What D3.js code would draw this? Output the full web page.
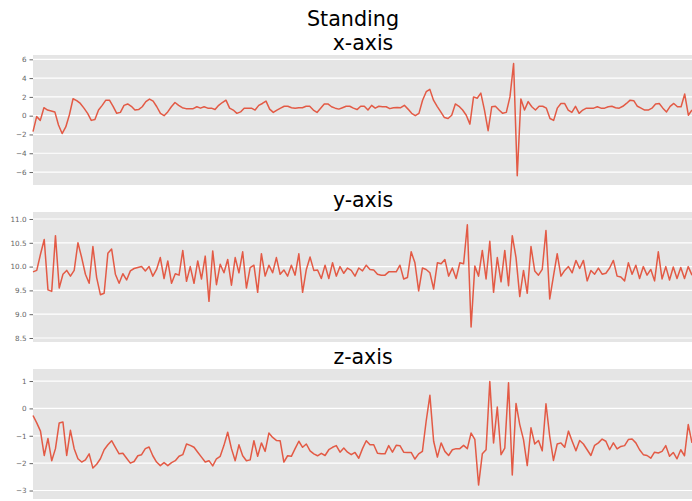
<!DOCTYPE html>
<html>
<head>
<meta charset="utf-8">
<script src="https://cdn.jsdelivr.net/npm/d3@7"></script>
<style>
  body { margin: 0; background: #fff; }
  svg { display: block; }
  text { font-family: "DejaVu Sans", sans-serif; }
</style>
</head>
<body>
<script>
// accelerometer readings while standing
const xAxisData = [
  -1.7, -0.1, -0.5, 0.85, 0.6, 0.5, 0.4, -1.0, -1.9, -1.2,
  0.1, 1.8, 1.6, 1.3, 0.8, 0.25, -0.5, -0.4, 0.6, 1.1,
  1.65, 1.65, 1.0, 0.25, 0.35, 1.1, 1.25, 1.0, 0.6, 0.65,
  0.95, 1.5, 1.77, 1.55, 0.95, 0.25, 0.0, 0.4, 0.95, 1.4,
  1.1, 0.85, 0.75, 0.75, 0.75, 0.95, 0.8, 0.95, 0.8, 0.8,
  0.65, 1.1, 1.4, 1.65, 0.8, 0.6, 0.25, 0.4, 0.8, 0.8,
  0.8, 0.6, 1.1, 1.3, 1.55, 0.7, 0.35, 0.6, 0.8, 1.0,
  1.0, 0.85, 0.8, 0.85, 0.85, 1.0, 1.0, 0.6, 0.35, 0.8,
  1.25, 1.25, 0.95, 0.8, 0.7, 0.85, 1.0, 1.0,
  0.8, 0.65, 1.0, 1.0, 0.6, 1.1, 0.8, 1.0, 0.95, 0.95,
  0.75, 0.85, 0.88, 0.85, 1.1, 0.7, 0.25, 0.0, 0.25, 1.65,
  2.55, 2.8, 1.65, 1.0, 0.4, -0.2, -0.3, 0.05, 1.25, 1.0,
  0.6, 0.05, -0.9, 2.0, 1.85, 2.4, 0.6, -1.6, 0.95, 1.0,
  0.6, 0.25, 0.35, 2.0, 5.55, -6.4, 1.77, 0.6, 1.5, 0.95,
  0.6, 1.0, 1.0, 0.8, -0.3, -0.5, 0.8, 1.3, 1.3, 0.6,
  0.35, 1.0, 0.25, 0.6, 0.8, 0.8, 0.8, 0.95, 0.8, 0.8,
  0.95, 1.0, 0.85, 0.8, 1.0, 1.3, 1.65, 1.6, 1.0, 0.8,
  0.6, 0.6, 0.8, 1.25, 1.3, 0.8, 0.4, 1.0, 1.3, 0.95,
  0.95, 2.3, 0.05, 0.6
];

const yAxisData = [
  9.89, 9.92, 10.26, 10.57, 9.51, 9.48, 10.65, 9.55, 9.84, 9.92,
  9.8, 9.92, 10.5, 10.19, 9.84, 9.65, 10.42, 9.77, 9.41, 9.44,
  10.28, 10.37, 9.84, 9.65, 9.85, 9.72, 9.91, 9.96, 9.98, 10.0,
  9.91, 10.0, 9.8, 9.94, 10.19, 9.75, 10.12, 9.65, 9.85, 9.82,
  10.34, 9.69, 10.0, 9.65, 10.12, 9.74, 10.22, 9.27, 10.33, 9.62,
  10.05, 9.87, 10.15, 9.61, 10.19, 9.87, 10.31, 9.55, 9.98, 10.03,
  9.46, 10.27, 9.8, 10.03, 9.87, 10.19, 9.84, 9.93, 9.8, 10.03,
  9.82, 10.27, 9.46, 9.94, 10.2, 9.92, 9.93, 9.75, 10.03, 9.75,
  10.08, 9.8, 10.0, 9.86, 9.97, 9.92, 9.8, 9.97, 9.91, 10.03,
  9.94, 9.93, 9.84, 9.82, 9.82, 9.89, 9.89, 9.89, 10.03, 9.74,
  9.77, 10.31, 10.08, 9.49, 9.97, 9.94, 9.87, 9.53, 10.08, 10.06,
  10.15, 9.8, 9.97, 9.75, 10.08, 10.06,
  10.88, 8.73, 10.01, 9.8, 10.34, 9.74, 10.53, 9.46, 10.19, 9.68,
  10.34, 9.6, 10.65, 10.19, 9.37, 9.92, 9.44, 10.42, 9.91, 9.82,
  9.94, 10.76, 9.32, 9.8, 10.27, 9.8, 9.92, 10.0, 9.87, 10.13,
  9.96, 10.13, 9.7, 9.92, 9.84, 9.97, 9.84, 9.86, 9.97, 10.13,
  9.8, 9.78, 9.7, 10.08, 9.84, 10.03, 9.75, 10.0, 9.82, 9.94,
  9.7, 10.31, 9.74, 10.0, 9.72, 9.99, 9.75, 9.98, 9.75, 10.0,
  9.82
];

const zAxisData = [
  -0.26, -0.53, -0.83, -1.72, -1.1, -1.91, -1.47, -0.53, -0.5, -1.72,
  -0.8, -1.47, -1.84, -1.96, -1.88, -1.66, -2.18, -2.04, -1.84, -1.51,
  -1.33, -1.18, -1.42, -1.66, -1.64, -1.82, -2.0, -1.94, -1.73, -1.69,
  -1.47, -1.41, -1.73, -1.96, -2.09, -1.98, -2.09, -1.98, -1.91, -1.75,
  -1.69, -1.3, -1.35, -1.42, -1.6, -1.78, -1.96, -1.91, -2.1, -1.84,
  -1.75, -1.35, -0.87, -1.47, -1.91, -1.33, -1.73, -1.91, -1.88,
  -1.18, -1.75, -1.26, -1.57, -0.9, -1.06, -1.17, -1.18, -1.96, -1.73,
  -1.75, -1.47, -1.2, -1.42, -1.3, -1.55, -1.66, -1.73, -1.64, -1.72,
  -1.51, -1.42, -1.36, -1.6, -1.45, -1.6, -1.69, -1.61, -1.82, -1.47,
  -1.18, -1.33, -1.33, -1.64, -1.66, -1.66, -1.36, -1.6, -1.35, -1.36,
  -1.6, -1.61, -1.61, -1.85, -1.66, -1.57, -0.47, 0.48, -1.2, -1.78,
  -1.26, -1.57, -1.72, -1.51, -1.47, -1.47, -1.35, -1.47, -0.9, -1.13,
  -2.8, -1.66, -1.51, 0.98, -1.26, 0.05, -1.69, -1.45, 0.94, -2.43,
  0.18, -0.59, -1.14, -2.09, -0.71, -1.3, -1.17, -1.55, 0.17, -1.02,
  -1.9, -1.3, -1.26, -1.42, -0.83, -1.2, -1.55, -1.17, -1.3, -1.51,
  -1.72, -1.35, -1.26, -1.12, -1.2, -1.51, -1.26, -1.48, -1.39, -1.36,
  -1.14, -1.12, -1.26, -1.51, -1.69, -1.72, -1.82, -1.6, -1.63, -1.57,
  -1.36, -1.75, -1.61, -1.84, -1.51, -1.73, -0.59, -1.26
];

const xTicks = [6, 4, 2, 0, -2, -4, -6];
const yTicks = [11.0, 10.5, 10.0, 9.5, 9.0, 8.5];
const zTicks = [1, 0, -1, -2, -3];
const mainTitle = "Standing";
const panelTitles = ["x-axis", "y-axis", "z-axis"];

const width = 692, height = 501;
const left = 33, right = 693, panelH = 130;

const svg = d3.select("body").append("svg")
  .attr("width", width)
  .attr("height", height);

const panels = [
  {data: xAxisData, ticks: xTicks, fmt: d3.format("d"), top: 55, domain: [-7.38, 6.46]},
  {data: yAxisData, ticks: yTicks, fmt: d3.format(".1f"), top: 212, domain: [8.416, 11.147]},
  {data: zAxisData, ticks: zTicks, fmt: d3.format("d"), top: 369, domain: [-3.31, 1.44]}
];

svg.append("text")
  .attr("x", 353)
  .attr("y", 26)
  .attr("text-anchor", "middle")
  .style("font-size", "20.7px")
  .text(mainTitle);

panels.forEach((p, k) => {
  const x = d3.scaleLinear().domain([0, p.data.length - 1]).range([left, right - 1]);
  const y = d3.scaleLinear().domain(p.domain).range([p.top + panelH, p.top]);

  const g = svg.append("g");

  g.append("rect")
    .attr("x", left)
    .attr("y", p.top)
    .attr("width", right - left)
    .attr("height", panelH)
    .attr("fill", "#E5E5E5");

  // white horizontal grid
  g.selectAll("line.grid")
    .data(p.ticks)
    .enter()
    .append("line")
    .attr("class", "grid")
    .attr("x1", left)
    .attr("x2", right)
    .attr("y1", d => y(d))
    .attr("y2", d => y(d))
    .attr("stroke", "#fff")
    .attr("stroke-width", 1.2);

  const axis = g.append("g")
    .attr("transform", "translate(" + left + ",0)")
    .call(d3.axisLeft(y).tickValues(p.ticks).tickFormat(p.fmt).tickSize(3.5).tickPadding(3));
  axis.select(".domain").remove();
  axis.selectAll(".tick line").attr("stroke", "#666");
  axis.selectAll(".tick text")
    .attr("fill", "#666")
    .style("font-family", "'DejaVu Sans', sans-serif")
    .style("font-size", "7.2px");

  g.append("path")
    .datum(p.data)
    .attr("fill", "none")
    .attr("stroke", "#E24A33")
    .attr("stroke-opacity", 0.9)
    .attr("stroke-width", 1.5)
    .attr("stroke-linejoin", "round")
    .attr("d", d3.line().x((d, i) => x(i)).y(d => y(d)));

  svg.append("text")
    .attr("x", 363)
    .attr("y", p.top - 5)
    .attr("text-anchor", "middle")
    .style("font-size", "20.5px")
    .text(panelTitles[k]);
});
</script>
</body>
</html>
